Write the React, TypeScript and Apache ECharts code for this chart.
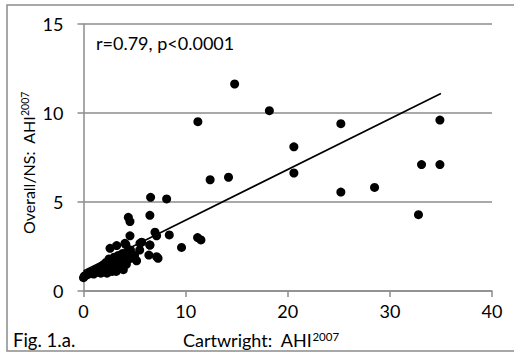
import React, { useEffect, useRef } from "react";
import * as echarts from "echarts";

const cartwrightX: number[] = [
  0, 0.1, 0.3, 0.5, 0.6, 0.8, 1.0, 1.0, 1.2, 1.3, 1.5, 1.6, 1.7, 1.8, 1.9, 2.0, 2.0, 2.1, 2.2, 2.3,
  2.4, 2.5, 2.5, 2.6, 2.7, 2.8, 2.9, 3.0, 3.0, 3.1, 3.2, 3.25, 3.3, 3.4, 3.5, 3.6, 3.7, 3.8, 3.9, 4.0,
  4.06, 4.1, 4.2, 4.3, 4.15, 4.5, 4.6, 5.0, 5.2, 5.5, 5.53, 5.7, 6.4, 6.5, 7.3, 7.16,
  4.39, 4.55, 4.55, 6.5, 6.57, 8.14, 6.5, 7.0, 7.16, 8.4, 9.6, 11.17, 11.5,
  12.4, 14.2, 11.2, 14.8, 18.2, 20.6, 20.6, 25.2, 25.2, 28.5, 32.8, 33.1, 34.9, 34.9,
];
const overallY: number[] = [
  0.75, 0.85, 0.9, 0.95, 1.05, 1.0, 1.1, 0.95, 1.2, 1.05, 1.15, 1.3, 1.0, 1.4, 1.2, 1.5, 1.1, 1.3, 1.6, 1.0,
  1.4, 1.8, 1.2, 2.4, 1.5, 1.1, 1.7, 1.3, 1.9, 1.5, 1.1, 2.55, 1.7, 2.0, 1.3, 1.8, 1.5, 2.1, 1.2, 1.7,
  2.68, 2.0, 1.5, 2.2, 2.6, 1.8, 2.3, 2.0, 1.7, 2.3, 2.68, 2.74, 2.02, 2.58, 1.84, 1.93,
  4.14, 3.9, 3.1, 4.25, 5.26, 5.17, 2.58, 3.3, 3.1, 3.15, 2.45, 3.0, 2.87,
  6.25, 6.39, 9.51, 11.63, 10.13, 8.1, 6.63, 9.4, 5.56, 5.82, 4.29, 7.1, 7.1, 9.6,
];
const trendX: number[] = [0, 35];
const trendY: number[] = [1.13, 11.1];
const xTicks = { min: 0, max: 40, interval: 10 };
const yTicks = { min: 0, max: 15, interval: 5 };

const FONT = "Lato";

export default function App() {
  const ref = useRef<HTMLDivElement>(null);
  useEffect(() => {
    if (!ref.current) return;
    const chart = echarts.init(ref.current, undefined, { renderer: "svg" });
    const points = cartwrightX.map((x, i) => [x, overallY[i]]);
    const trend = trendX.map((x, i) => [x, trendY[i]]);
    const richX = {
      m: { fontFamily: FONT, fontSize: 18, fill: "#000" },
      s: { fontFamily: FONT, fontSize: 11.5, fill: "#000", verticalAlign: "top", padding: [0, 0, 7, 0] },
    };
    const richY = {
      m: { fontFamily: FONT, fontSize: 16, fill: "#000" },
      s: { fontFamily: FONT, fontSize: 10.5, fill: "#000", verticalAlign: "top", padding: [0, 0, 6, 0] },
    };
    chart.setOption({
      animation: false,
      backgroundColor: "#fff",
      grid: { left: 83.5, right: 22, top: 24, bottom: 67 },
      xAxis: {
        type: "value",
        ...xTicks,
        axisLine: { show: true, lineStyle: { color: "#8c8c8c", width: 1.5 } },
        axisTick: { show: true, length: 6, lineStyle: { color: "#8c8c8c", width: 1.5 } },
        splitLine: { show: false },
        axisLabel: { color: "#000", fontFamily: FONT, fontSize: 18, margin: 11 },
      },
      yAxis: {
        type: "value",
        ...yTicks,
        axisLine: { show: true, lineStyle: { color: "#8c8c8c", width: 1.5 } },
        axisTick: { show: true, length: 6, lineStyle: { color: "#8c8c8c", width: 1.5 } },
        splitLine: { show: true, lineStyle: { color: "#8c8c8c", width: 1.5 } },
        axisLabel: { color: "#000", fontFamily: FONT, fontSize: 18, margin: 20 },
      },
      series: [
        {
          type: "scatter",
          data: points,
          symbol: "circle",
          symbolSize: 9,
          itemStyle: { color: "#000", opacity: 1 },
          z: 3,
        },
        {
          type: "line",
          data: trend,
          symbol: "none",
          lineStyle: { color: "#000", width: 1.6 },
          z: 4,
        },
      ],
      graphic: [
        {
          type: "rect",
          shape: { x: 7, y: 5, width: 520, height: 346 },
          style: { fill: "none", stroke: "#8c8c8c", lineWidth: 1.5 },
          silent: true,
        },
        {
          type: "text",
          x: 96,
          y: 43,
          style: {
            text: "r=0.79, p<0.0001",
            fontFamily: FONT,
            fontSize: 18,
            fill: "#000",
            verticalAlign: "middle",
          },
        },
        {
          type: "text",
          x: 13,
          y: 340,
          style: {
            text: "Fig. 1.a.",
            fontFamily: FONT,
            fontSize: 18.5,
            fill: "#000",
            verticalAlign: "middle",
          },
        },
        {
          type: "text",
          x: 183,
          y: 340,
          style: {
            text: "{m|Cartwright:  AHI}{s|2007}",
            fill: "#000",
            verticalAlign: "middle",
            rich: richX,
          },
        },
        {
          type: "text",
          x: 28,
          y: 163,
          rotation: Math.PI / 2,
          style: {
            text: "{m|Overall/NS:  AHI}{s|2007}",
            fill: "#000",
            align: "center",
            verticalAlign: "middle",
            rich: richY,
          },
        },
      ],
    });
    return () => chart.dispose();
  }, []);
  return <div ref={ref} style={{ width: 514, height: 358, position: "absolute", left: 0, top: 0 }} />;
}
